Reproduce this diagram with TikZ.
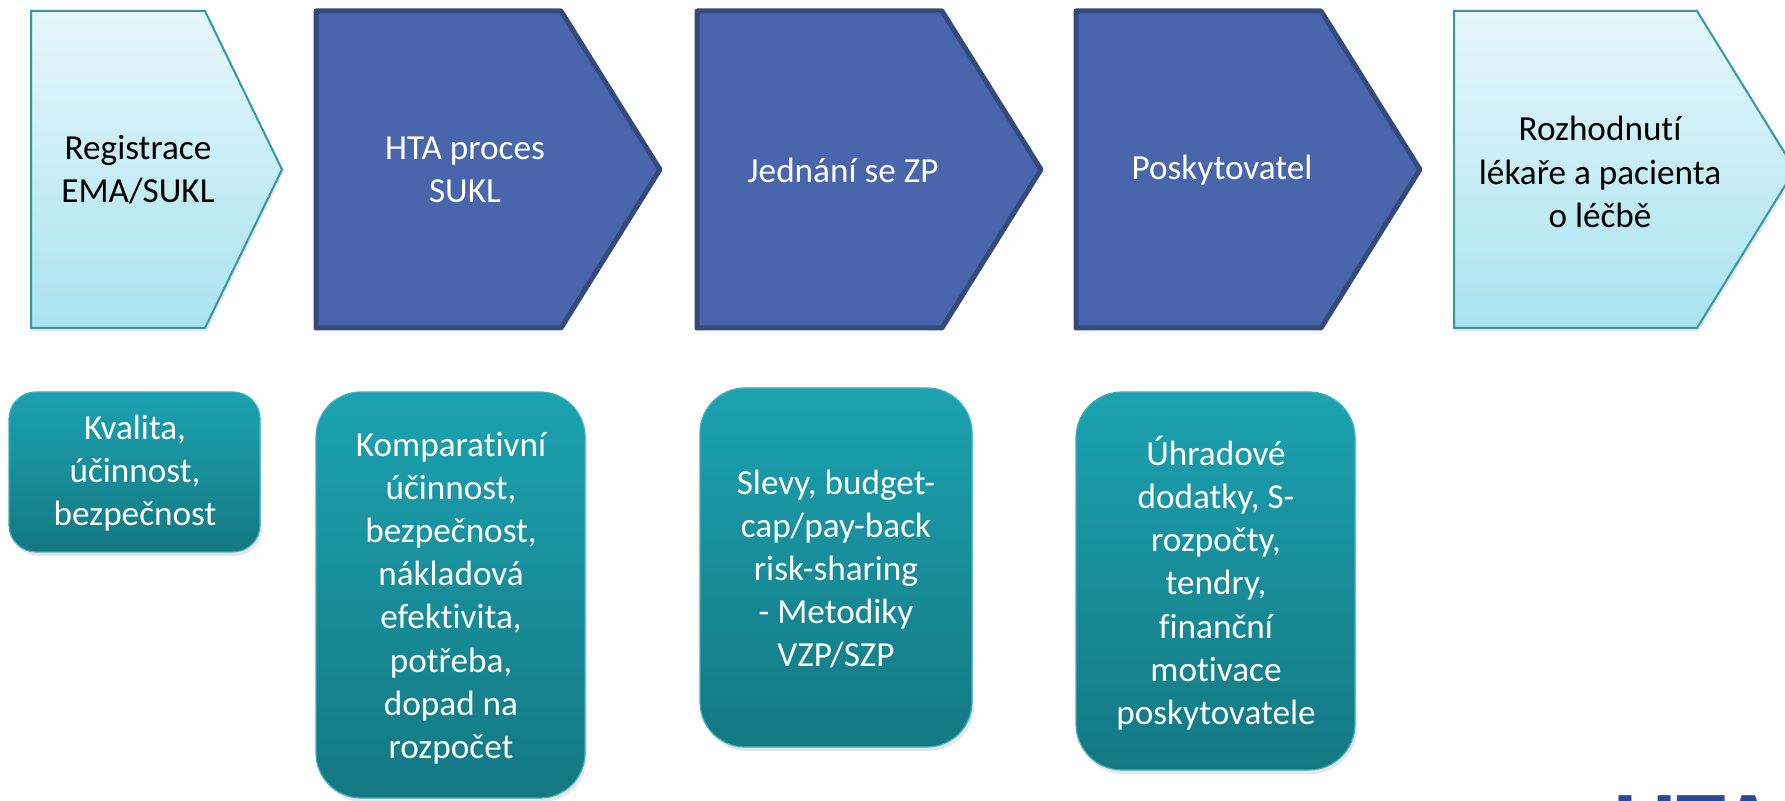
\documentclass[tikz,border=0pt]{standalone}
\usepackage{fontspec}
\setmainfont{Carlito}[Ligatures=NoCommon]
\usetikzlibrary{shadows}
\definecolor{celeste}{HTML}{E6F7FB}
\definecolor{celesteosc}{HTML}{A9E3EF}
\definecolor{bordeceleste}{HTML}{3199A5}
\definecolor{azul}{HTML}{4966AC}
\definecolor{bordeazul}{HTML}{344A7D}
\definecolor{turquesa}{HTML}{1CA2B0}
\definecolor{turquesaosc}{HTML}{137882}
\definecolor{logoazul}{HTML}{2B4A9C}
\begin{document}
\begin{tikzpicture}[x=0.5pt,y=-0.5pt,
  claro/.style={top color=celeste, bottom color=celesteosc, draw=bordeceleste, line width=1pt,
    drop shadow={opacity=0.18, shadow xshift=1pt, shadow yshift=-1.5pt}},
  oscuro/.style={fill=azul, draw=bordeazul, line width=2.5pt, line join=round},
  caja/.style={top color=turquesa, bottom color=turquesaosc, draw=turquesa!85!white, line width=0.6pt,
    drop shadow={opacity=0.2, shadow xshift=1pt, shadow yshift=-2pt}},
  texto/.style={align=center, font=\fontsize{17.6}{21.6}\selectfont, inner sep=0pt}]
\useasboundingbox (0,0) rectangle (1785,801);
\clip (0,0) rectangle (1785,801);
% Flechas
\draw[claro] (31,11) -- (205,11) -- (282,169.5) -- (205,328) -- (31,328) -- cycle;
\foreach \x in {316,697,1076} {
    \draw[oscuro] (\x,11) -- (\x+245,11) -- (\x+344,169.5) -- (\x+245,328) -- (\x,328) -- cycle;
}
\draw[claro] (1454,11) -- (1697,11) -- (1795,169.5) -- (1697,328) -- (1454,328) -- cycle;
% Textos de las flechas
\node[texto] (registrace) at (138,170) {Registrace\\EMA/SUKL};
\node[texto, white] (hta) at (465,170) {HTA proces\\SUKL};
\node[texto, white] (jednani) at (843,170) {Jednání se ZP};
\node[texto, white] (poskytovatel) at (1222,170) {Poskytovatel};
\node[texto] (rozhodnuti) at (1600,172) {Rozhodnutí\\lékaře a pacienta\\o léčbě};
% Cajas
\draw[caja, rounded corners=13.5pt] (9,392) rectangle (260,552);
\draw[caja, rounded corners=22.5pt] (316,392) rectangle (585,798);
\draw[caja, rounded corners=22.5pt] (700,388) rectangle (972,747);
\draw[caja, rounded corners=23pt] (1076,392) rectangle (1355,770);
% Textos de las cajas
\node[texto, white] (kvalita) at (135,473) {Kvalita,\\účinnost,\\bezpečnost};
\node[texto, white] (komparativni) at (451,598) {Komparativní\\účinnost,\\bezpečnost,\\nákladová\\efektivita,\\potřeba,\\dopad na\\rozpočet};
\node[texto, white] (slevy) at (836,569) {Slevy, budget-\\cap/pay-back\\risk-sharing\\- Metodiky\\VZP/SZP};
\node[texto, white] (uhradove) at (1216,583) {Úhradové\\dodatky, S-\\rozpočty,\\tendry,\\finanční\\motivace\\poskytovatele};
% Logo
\node[anchor=base west, inner sep=0pt, text=logoazul, font=\fontsize{50}{50}\selectfont\bfseries] (logo) at (1613,861) {HTA};
\end{tikzpicture}
\end{document}
